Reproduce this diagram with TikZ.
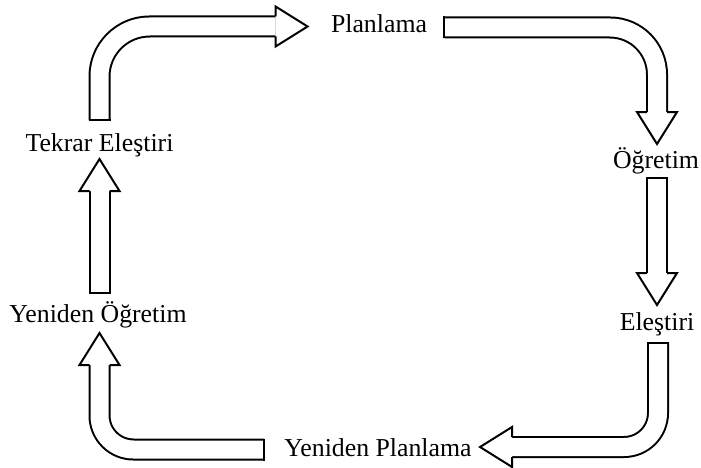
\documentclass[tikz,border=0pt]{standalone}
\usepackage{fontspec}
\setmainfont{Liberation Serif}
\usetikzlibrary{calc}

\tikzset{
  stage/.style={font=\fontsize{12.9}{15}\selectfont, inner sep=0pt, anchor=base},
  shaft/.style={line width=1pt, double=white, double distance=9pt},
  pics/bhead/.style={code={
    \filldraw[fill=white, line width=1pt, line join=miter] (0,-10) -- (0,-20) -- (32,0) -- (0,20) -- (0,10);
  }},
  pics/btail/.style={code={
    \draw[line width=1pt] (0,-11) -- (0,11);
  }}
}

\begin{document}
\begin{tikzpicture}[x=0.5pt, y=0.5pt]
  \useasboundingbox (0,0) rectangle (701,467);

  % Stages
  \node[stage] (plan) at (379,434) {Planlama};
  \node[stage] (ogr) at (656,299) {Öğretim};
  \node[stage] (el) at (657,137) {Eleştiri};
  \node[stage] (yplan) at (378,11) {Yeniden Planlama};
  \node[stage] (yogr) at (98,145) {Yeniden Öğretim};
  \node[stage] (tekrar) at (99.5,316) {Tekrar Eleştiri};

  % Tekrar Elestiri -> Planlama
  \coordinate (t1) at ($(tekrar.base)+(0,31)$);
  \coordinate (h1) at ($(plan.base west)+(-55,6.5)$);
  \draw[shaft, rounded corners=25pt] (t1) |- (h1);
  \pic[rotate=90] at (t1) {btail};
  \pic at (h1) {bhead};

  % Planlama -> Ogretim
  \coordinate (t2) at ($(plan.base east)+(17,5.5)$);
  \coordinate (h2) at ($(ogr.base)+(1,56)$);
  \draw[shaft, rounded corners=23.5pt] (t2) -| (h2);
  \pic at (t2) {btail};
  \pic[rotate=-90] at (h2) {bhead};

  % Ogretim -> Elestiri
  \coordinate (t3) at ($(ogr.base)+(1,-10)$);
  \coordinate (h3) at ($(el.base)+(0,57)$);
  \draw[shaft] (t3) -- (h3);
  \pic[rotate=-90] at (t3) {btail};
  \pic[rotate=-90] at (h3) {bhead};

  % Elestiri -> Yeniden Planlama
  \coordinate (t4) at ($(el.base)+(1,-13)$);
  \coordinate (h4) at ($(yplan.base east)+(40,9)$);
  \draw[shaft, rounded corners=17pt] (t4) |- (h4);
  \pic[rotate=-90] at (t4) {btail};
  \pic[rotate=180] at (h4) {bhead};

  % Yeniden Planlama -> Yeniden Ogretim
  \coordinate (t5) at ($(yplan.base west)+(-20,6.5)$);
  \coordinate (h5) at ($(yogr.base)+(1.5,-43)$);
  \draw[shaft, rounded corners=17pt] (t5) -| (h5);
  \pic[rotate=180] at (t5) {btail};
  \pic[rotate=90] at (h5) {bhead};

  % Yeniden Ogretim -> Tekrar Elestiri
  \coordinate (t6) at ($(yogr.base)+(1.5,29)$);
  \coordinate (h6) at ($(tekrar.base)+(0,-40)$);
  \draw[shaft] (t6) -- (h6);
  \pic[rotate=90] at (t6) {btail};
  \pic[rotate=90] at (h6) {bhead};
\end{tikzpicture}
\end{document}
